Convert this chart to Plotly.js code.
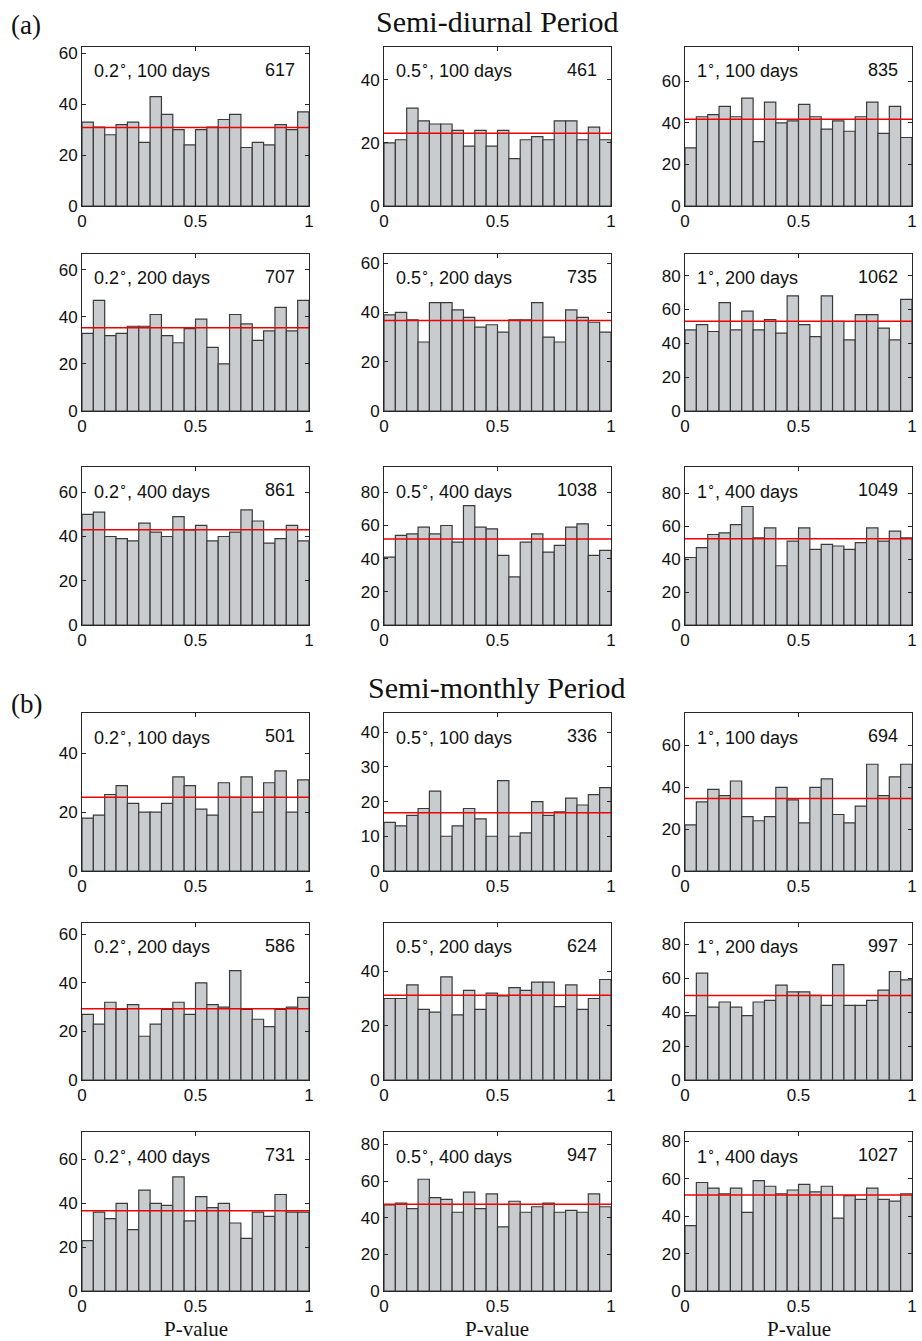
<!DOCTYPE html>
<html>
<head>
<meta charset="utf-8">
<script src="https://cdn.plot.ly/plotly-3.0.1.min.js"></script>
<style>html,body{margin:0;padding:0;background:#fff;}#chart{width:922px;height:1341px;}</style>
</head>
<body>
<div id="chart"></div>
<script>
// ---------- DATA ----------
const binCenters = [0.025,0.075,0.125,0.175,0.225,0.275,0.325,0.375,0.425,0.475,
                    0.525,0.575,0.625,0.675,0.725,0.775,0.825,0.875,0.925,0.975];
const xTickVals = [0, 0.5, 1];
const xTickText = ['0', '0.5', '1'];

const sectionTitles = ['Semi-diurnal Period', 'Semi-monthly Period'];
const sectionTags = ['(a)', '(b)'];
const resolutions = ['0.2', '0.5', '1'];
const durations = ['100 days', '200 days', '400 days'];
const xAxisLabel = 'P-value';

// (a) Semi-diurnal period
const a_02_100 = [33,31,28,32,33,25,43,36,30,24,30,31,34,36,23,25,24,32,30,37];
const a_05_100 = [20,21,31,27,26,26,24,19,24,19,24,15,21,22,21,27,27,21,25,21];
const a_1_100  = [28,43,44,48,43,52,31,50,40,41,49,43,37,41,36,43,50,35,48,33];
const a_02_200 = [33,47,32,33,36,36,41,32,29,35,39,27,20,41,37,30,34,44,34,47];
const a_05_200 = [39,40,37,28,44,44,41,38,34,35,32,37,37,44,30,28,41,38,36,32];
const a_1_200  = [48,51,47,64,48,59,48,54,46,68,51,44,68,53,42,57,57,49,42,66];
const a_02_400 = [50,51,40,39,38,46,42,40,49,43,45,38,40,42,52,47,37,39,45,38];
const a_05_400 = [41,54,55,59,55,60,50,72,59,58,42,29,50,55,44,48,59,61,42,45];
const a_1_400  = [41,47,55,56,61,72,53,59,36,51,59,46,49,48,46,50,59,51,57,53];
// (b) Semi-monthly period
const b_02_100 = [18,19,26,29,23,20,20,23,32,29,21,19,30,25,32,20,30,34,20,31];
const b_05_100 = [14,13,16,18,23,10,13,18,15,10,26,10,11,20,16,17,21,19,22,24];
const b_1_100  = [22,33,39,36,43,26,24,26,40,34,23,40,44,27,23,31,51,36,45,51];
const b_02_200 = [27,23,32,29,31,18,23,29,32,27,40,31,30,45,29,25,22,29,30,34];
const b_05_200 = [30,30,35,26,25,38,24,33,26,32,31,34,33,36,36,27,35,26,30,37];
const b_1_200  = [38,63,43,46,43,38,46,47,56,52,52,50,44,68,44,44,47,53,64,59];
const b_02_400 = [23,36,33,40,28,46,40,39,52,32,43,38,40,31,24,36,34,44,36,36];
const b_05_400 = [47,48,45,61,51,50,43,54,45,53,35,49,43,46,48,43,44,43,53,46];
const b_1_400  = [35,58,55,52,55,42,59,56,52,54,57,53,56,39,51,49,55,49,48,52];

// totals printed in each panel (row-major: section, duration, resolution)
const totals = [617,461,835, 707,735,1062, 861,1038,1049,
                501,336,694, 586,624,997, 731,947,1027];

const panelSeries = [a_02_100,a_05_100,a_1_100, a_02_200,a_05_200,a_1_200, a_02_400,a_05_400,a_1_400,
                     b_02_100,b_05_100,b_1_100, b_02_200,b_05_200,b_1_200, b_02_400,b_05_400,b_1_400];

// ---------- AXIS SETTINGS ----------
const yMax  = [62.5,50.4,76.6, 66.7,63.7,92.8, 71.4,95.3,96.0,
               53.7,45.5,75.5, 64.6,57.8,92.6, 72.5,86.8,85.0];
const yDtick = [20,20,20, 20,20,20, 20,20,20, 20,10,20, 20,20,20, 20,20,20];

// ---------- GEOMETRY (pixels) ----------
const W = 922, H = 1341;
const colPx = [[82,309],[384,611],[685,912]];
const rowPx = [[47,206],[254,411],[467,625],[713,871],[923,1080],[1132,1291]];

const sansFont = 'Liberation Sans, Arial, Helvetica, sans-serif';
const serifFont = 'Liberation Serif, Times New Roman, serif';
const barFill = '#c9cccf';
const barEdge = '#3a3a3a';
const axisColor = '#262626';

const traces = [];
const layout = {
  width: W, height: H,
  margin: {l:0, r:0, t:0, b:0},
  paper_bgcolor: '#ffffff', plot_bgcolor: '#ffffff',
  showlegend: false,
  bargap: 0,
  annotations: []
};

for (let p = 0; p < 18; p++) {
  const row = Math.floor(p / 3), col = p % 3;
  const n = p + 1;
  const xa = n === 1 ? 'x' : 'x' + n;
  const ya = n === 1 ? 'y' : 'y' + n;
  const vals = panelSeries[p];
  const mean = vals.reduce((s, v) => s + v, 0) / vals.length;

  traces.push({
    type: 'bar', x: binCenters, y: vals, width: 0.05,
    xaxis: xa, yaxis: ya,
    marker: {color: barFill, line: {color: barEdge, width: 1.2}},
    hoverinfo: 'x+y'
  });
  traces.push({
    type: 'scatter', mode: 'lines', x: [0, 1], y: [mean, mean],
    xaxis: xa, yaxis: ya,
    line: {color: '#f00000', width: 1.5}, hoverinfo: 'y'
  });

  const xKey = n === 1 ? 'xaxis' : 'xaxis' + n;
  const yKey = n === 1 ? 'yaxis' : 'yaxis' + n;
  layout[xKey] = {
    domain: [colPx[col][0] / W, colPx[col][1] / W],
    anchor: ya, range: [0, 1],
    tickvals: xTickVals, ticktext: xTickText,
    ticks: 'inside', ticklen: 4, tickwidth: 1, tickcolor: axisColor,
    showline: true, linecolor: axisColor, linewidth: 1, mirror: 'ticks',
    showgrid: false, zeroline: false,
    tickfont: {family: sansFont, size: 17, color: '#111'}
  };
  layout[yKey] = {
    domain: [1 - rowPx[row][1] / H, 1 - rowPx[row][0] / H],
    anchor: xa, range: [0, yMax[p]],
    tick0: 0, dtick: yDtick[p],
    ticks: 'inside', ticklen: 4, tickwidth: 1, tickcolor: axisColor,
    showline: true, linecolor: axisColor, linewidth: 1, mirror: 'ticks',
    showgrid: false, zeroline: false,
    tickfont: {family: sansFont, size: 17, color: '#111'}
  };

  const durIdx = row % 3;
  const labelY = 1 - (rowPx[row][0] + 23) / H;
  layout.annotations.push({
    xref: 'paper', yref: 'paper',
    x: (colPx[col][0] + 10) / W, y: labelY, xanchor: 'left', yanchor: 'middle',
    text: resolutions[col] + '<sup>∘</sup>, ' + durations[durIdx],
    showarrow: false, font: {family: sansFont, size: 18, color: '#111'}
  });
  layout.annotations.push({
    xref: 'paper', yref: 'paper',
    x: (colPx[col][1] - 12) / W, y: labelY, xanchor: 'right', yanchor: 'middle',
    text: String(totals[p]),
    showarrow: false, font: {family: sansFont, size: 18, color: '#111'}
  });
}

// section titles and tags
const sectionTitleY = [22, 687];
const sectionTagY = [25, 704];
for (let s = 0; s < 2; s++) {
  layout.annotations.push({
    xref: 'paper', yref: 'paper', x: 497 / W, y: 1 - sectionTitleY[s] / H,
    xanchor: 'center', yanchor: 'middle', text: sectionTitles[s], showarrow: false,
    font: {family: serifFont, size: 30, color: '#111'}
  });
  layout.annotations.push({
    xref: 'paper', yref: 'paper', x: 26 / W, y: 1 - sectionTagY[s] / H,
    xanchor: 'center', yanchor: 'middle', text: sectionTags[s], showarrow: false,
    font: {family: serifFont, size: 27, color: '#111'}
  });
}
// bottom x labels
for (let c = 0; c < 3; c++) {
  layout.annotations.push({
    xref: 'paper', yref: 'paper', x: (colPx[c][0] + colPx[c][1]) / 2 / W, y: 1 - 1329 / H,
    xanchor: 'center', yanchor: 'middle', text: xAxisLabel, showarrow: false,
    font: {family: serifFont, size: 21, color: '#111'}
  });
}

Plotly.newPlot('chart', traces, layout, {staticPlot: true, displayModeBar: false});
</script>
</body>
</html>
